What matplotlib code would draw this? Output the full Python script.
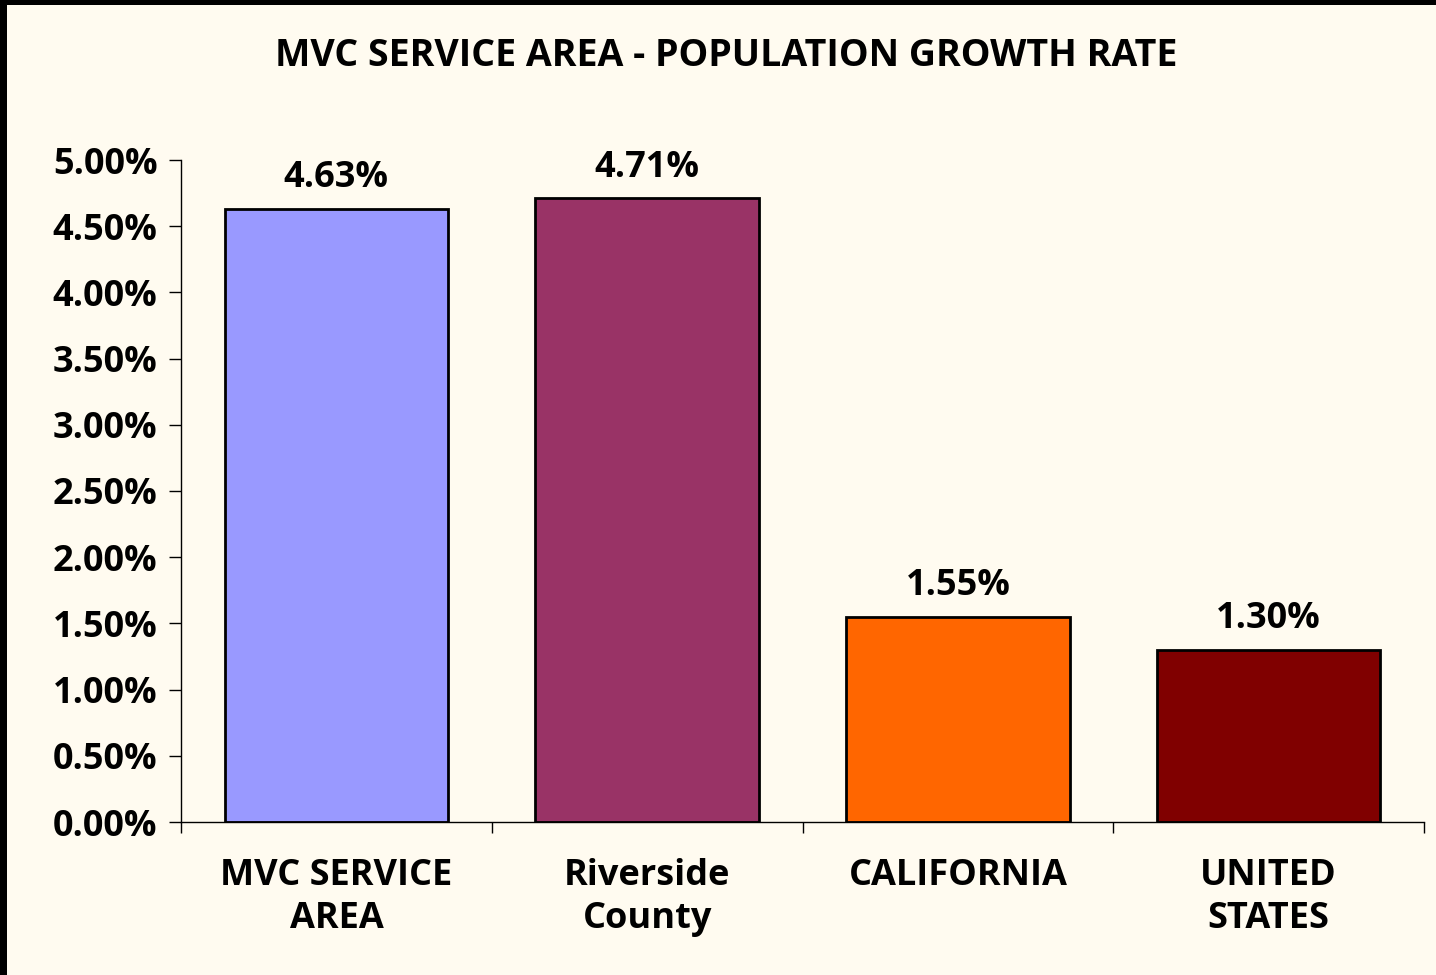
import matplotlib
matplotlib.use("Agg")
import matplotlib.pyplot as plt
from matplotlib.patches import Rectangle
import numpy as np

# Chart data
categories = ["MVC SERVICE\nAREA", "Riverside\nCounty", "CALIFORNIA", "UNITED\nSTATES"]
growth = [0.0463, 0.0471, 0.0155, 0.0130]
value_labels = ["4.63%", "4.71%", "1.55%", "1.30%"]
yticks = [0.0, 0.005, 0.010, 0.015, 0.020, 0.025, 0.030, 0.035, 0.040, 0.045, 0.050]
title = "MVC SERVICE AREA - POPULATION GROWTH RATE"

bar_colors = ["#9999FF", "#993366", "#FF6600", "#800000"]
bg = "#FFFBF0"

plt.rcParams['font.family'] = ['Open Sans', 'DejaVu Sans']
plt.rcParams['font.weight'] = 'bold'

fig = plt.figure(figsize=(14.36, 9.75), dpi=100)
fig.patch.set_facecolor(bg)

# black frame on top and left edges
fig.patches.append(Rectangle((0, 1 - 5 / 975), 1, 5 / 975, transform=fig.transFigure,
                             facecolor="black", edgecolor="none"))
fig.patches.append(Rectangle((0, 0), 7 / 1436, 1, transform=fig.transFigure,
                             facecolor="black", edgecolor="none"))

ax = fig.add_axes([181 / 1436, 1 - 822 / 975, (1424 - 181) / 1436, (822 - 160) / 975])
ax.set_facecolor(bg)

x = np.arange(len(categories))
ax.bar(x, growth, width=0.72, color=bar_colors, edgecolor="black", linewidth=2, zorder=2)

for xi, v, lab in zip(x, growth, value_labels):
    ax.annotate(lab, (xi, v), xytext=(0, 9), textcoords="offset points",
                ha="center", va="bottom", fontsize=26, fontweight="bold")

ax.set_xlim(-0.5, len(categories) - 0.5)
ax.set_ylim(0, 0.05)
ax.set_yticks(yticks)
ax.set_yticklabels([f"{t * 100:.2f}%" for t in yticks], fontsize=26, fontweight="bold")

ax.set_xticks(x)
ax.set_xticklabels(categories, fontsize=26, fontweight="bold", linespacing=1.25)
ax.set_xticks(np.arange(len(categories) + 1) - 0.5, minor=True)
ax.tick_params(axis="x", which="major", length=0, pad=26)
ax.tick_params(axis="x", which="minor", length=8, width=1, direction="out")
ax.tick_params(axis="y", length=9, width=1, direction="out", pad=8)

for s in ["top", "right"]:
    ax.spines[s].set_visible(False)
for s in ["left", "bottom"]:
    ax.spines[s].set_linewidth(1)

fig.text(726 / 1436, 1 - 56 / 975, title, ha="center", va="center",
         fontsize=27, fontweight="bold")

fig.savefig("out.png", dpi=100, facecolor=bg)
